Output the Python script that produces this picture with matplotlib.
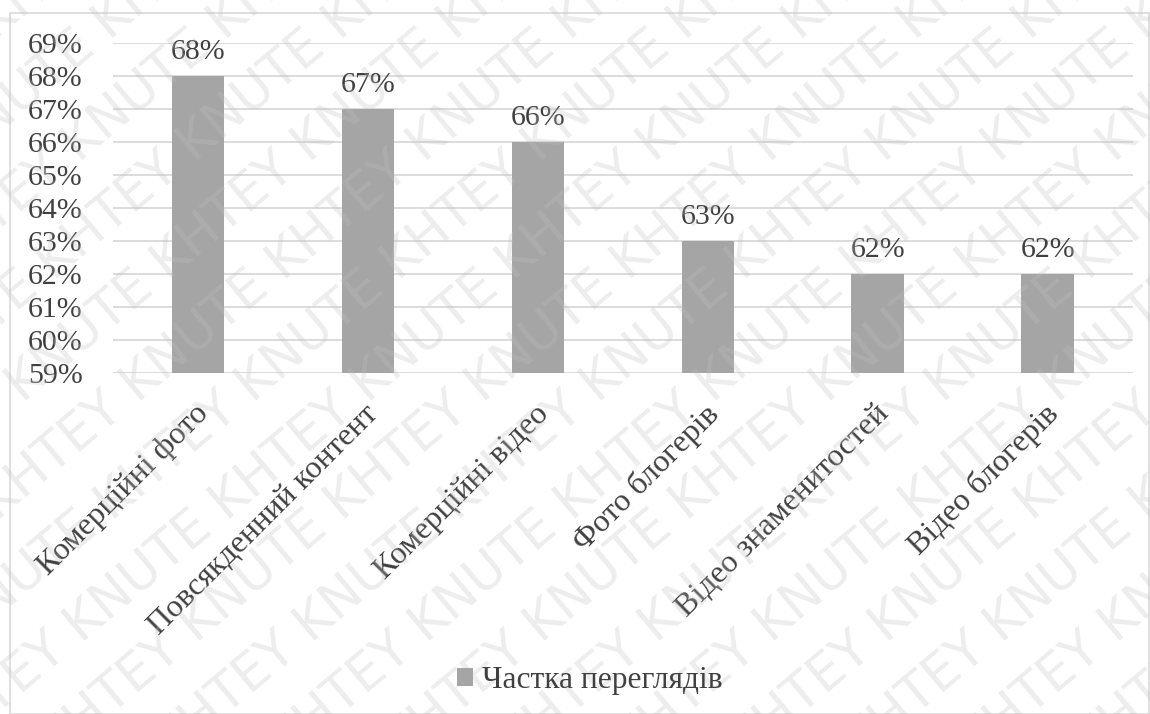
import matplotlib
matplotlib.use("Agg")
import matplotlib.pyplot as plt
from matplotlib.patches import Rectangle
from matplotlib.transforms import ScaledTranslation

categories = ["Комерційні фото", "Повсякденний контент", "Комерційні відео",
              "Фото блогерів", "Відео знаменитостей", "Відео блогерів"]
shares = [68, 67, 66, 63, 62, 62]
y_ticks = list(range(59, 70))
series_name = "Частка переглядів"

TEXT = "#404040"
BAR = "#a5a5a5"
GRID = "#d9d9d9"
FS = 21.5

plt.rcParams["font.family"] = ["Liberation Serif", "DejaVu Serif"]

fig = plt.figure(figsize=(11.5, 7.14), dpi=100)
ax = fig.add_axes([0.0983, 0.4776, 0.8867, 0.4622])

x = list(range(len(categories)))
bars = ax.bar(x, shares, width=0.31, bottom=0, color=BAR, zorder=2,
              label=series_name)
ax.set_xlim(-0.5, len(categories) - 0.5)
ax.set_ylim(59, 69)
ax.set_yticks(y_ticks, [f"{v}%" for v in y_ticks])
ax.grid(axis="y", color=GRID, linewidth=1.3, zorder=0)
ax.tick_params(axis="y", length=0, pad=22, labelsize=FS, labelcolor=TEXT)
ax.set_xticks(x)
ax.set_xticklabels(categories, rotation=45, ha="right", va="top",
                   rotation_mode="anchor", fontsize=23, color=TEXT)
ax.tick_params(axis="x", length=0, pad=19)
shift = ScaledTranslation(-0.04, 0, fig.dpi_scale_trans)
for lab in ax.get_xticklabels():
    lab.set_transform(lab.get_transform() + shift)
for s in ax.spines.values():
    s.set_visible(False)

for xi, v in zip(x, shares):
    ax.annotate(f"{v}%", (xi, v), xytext=(0, 8), textcoords="offset points",
                ha="center", va="bottom", fontsize=FS, color=TEXT)

fig.legend(handles=[bars], labels=[series_name], loc="center",
           bbox_to_anchor=(0.513, 0.047), frameon=False, fontsize=22.7,
           handlelength=0.5, handleheight=0.5, handletextpad=0.3,
           borderpad=0, labelcolor=TEXT)

# chart border
fig.add_artist(Rectangle((10 / 1150, 0.0), 1 - 10 / 1150 - 0.001, 1 - 13 / 714,
                         transform=fig.transFigure, fill=False,
                         edgecolor=GRID, linewidth=1.2))

# faint diagonal watermark
wm = "KNUTE KHTEY " * 7
for i in range(-6, 12):
    fig.text(-0.3 + i * 0.1, -0.25, wm, rotation=40,
             fontsize=37, family="DejaVu Sans", color="#c0c0c0", alpha=0.28,
             ha="left", va="bottom", zorder=5)

fig.savefig("out.png", dpi=100)
